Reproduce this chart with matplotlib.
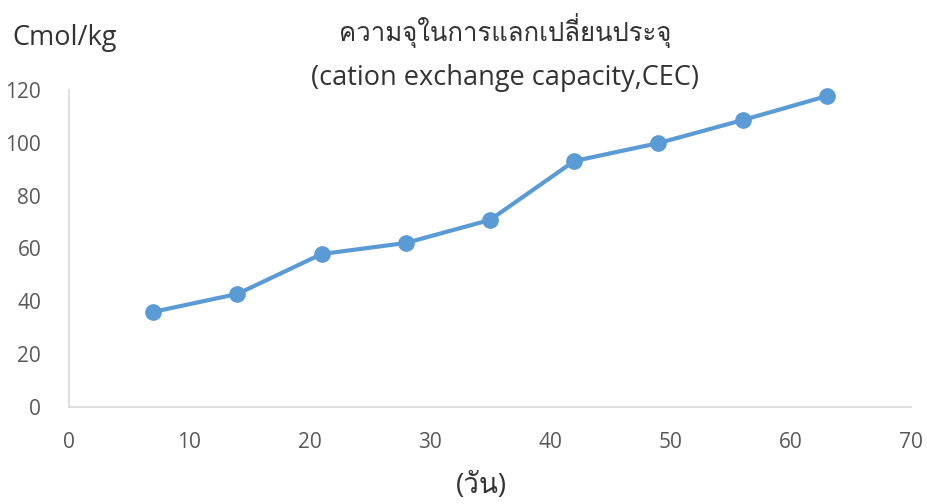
import matplotlib
matplotlib.use("Agg")
import matplotlib.pyplot as plt
from matplotlib import font_manager
from matplotlib.ft2font import FT2Font

days = [7, 14, 21, 28, 35, 42, 49, 56, 63]
cec = [36.0, 42.8, 57.9, 62.1, 70.8, 93.1, 99.9, 108.6, 117.7]
x_ticks = [0, 10, 20, 30, 40, 50, 60, 70]
y_ticks = [0, 20, 40, 60, 80, 100, 120]
title_th = "ความจุในการแลกเปลี่ยนประจุ"
title_en = "(cation exchange capacity,CEC)"
y_unit = "Cmol/kg"
x_label = "(วัน)"

# find a font with Thai glyphs
thai_family = None
for f in font_manager.fontManager.ttflist:
    try:
        ft = FT2Font(f.fname)
        cmap = ft.get_charmap()
        if ord("ค") in cmap and ord("ุ") in cmap:
            thai_family = f.name
            break
    except Exception:
        pass
fams = ["Open Sans"] + ([thai_family] if thai_family else []) + ["DejaVu Sans"]
plt.rcParams["font.family"] = fams

grey = "#595959"
dark = "#333333"
fig = plt.figure(figsize=(9.28, 5.04), dpi=100)
ax = fig.add_axes([69/928, 1-407/504, (911-69)/928, (407-90)/504])
ax.plot(days, cec, color="#5b9bd5", lw=3, marker="o", ms=11, clip_on=False, zorder=3)
ax.set_xlim(0, 70)
ax.set_ylim(0, 120)
ax.set_xticks(x_ticks)
ax.set_yticks(y_ticks)
for s in ["top", "right"]:
    ax.spines[s].set_visible(False)
for s in ["left", "bottom"]:
    ax.spines[s].set_color("#d9d9d9")
    ax.spines[s].set_linewidth(1.2)
ax.tick_params(length=0, labelsize=15, labelcolor=grey)
ax.tick_params(axis="y", pad=20)
ax.tick_params(axis="x", pad=18)
fig.text(505/928, 1-30/504, title_th, ha="center", va="center", fontsize=18.5, color=dark)
fig.text(505/928, 1-78/504, title_en, ha="center", va="center", fontsize=19.5, color=dark)
fig.text(12/928, 1-38/504, y_unit, ha="left", va="center", fontsize=19.5, color=dark)
fig.text(481/928, 1-486/504, x_label, ha="center", va="center", fontsize=20, color=dark)
fig.savefig("out.png", dpi=100)
